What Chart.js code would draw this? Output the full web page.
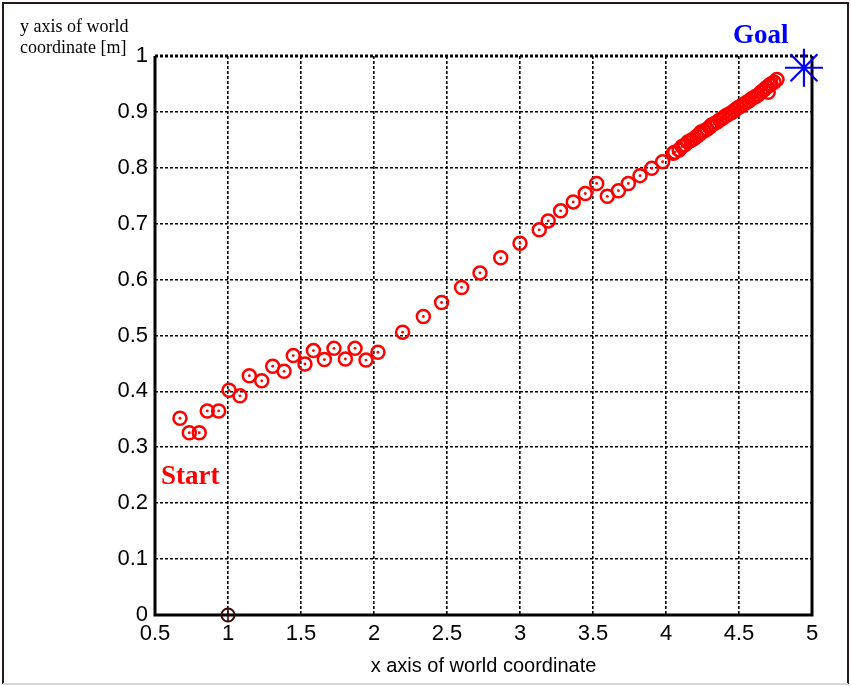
<!DOCTYPE html>
<html lang="en">
<head>
    <meta charset="UTF-8">
    <title>Robot path in world coordinates</title>
    <script src="https://cdn.jsdelivr.net/npm/chart.js"></script>
    <style>
        body { margin: 0; background: #fff; }
    </style>
</head>
<body>
    <canvas id="chart" width="851" height="686"></canvas>

    <script>
        // path points
        const pathX = [0.671, 0.735, 0.803, 0.858, 0.936, 1.007, 1.082, 1.146, 1.231, 1.306,
            1.384, 1.447, 1.527, 1.585, 1.660, 1.726, 1.804, 1.870, 1.945, 2.027,
            2.196, 2.338, 2.463, 2.600, 2.726, 2.868, 3.000, 3.132, 3.193, 3.278,
            3.365, 3.447, 3.525, 3.598, 3.674, 3.742, 3.822, 3.902, 3.977, 4.050,
            4.06, 4.09, 4.11, 4.13, 4.15, 4.17, 4.19, 4.21, 4.23, 4.24,
            4.26, 4.28, 4.30, 4.31, 4.33, 4.35, 4.37, 4.39, 4.41, 4.43,
            4.45, 4.47, 4.49, 4.51, 4.53, 4.55, 4.57, 4.59, 4.61, 4.63,
            4.65, 4.67, 4.69, 4.70, 4.71, 4.72, 4.74, 4.76];
        const pathY = [0.352, 0.326, 0.326, 0.365, 0.365, 0.402, 0.392, 0.428, 0.419, 0.445,
            0.436, 0.464, 0.449, 0.473, 0.457, 0.477, 0.458, 0.477, 0.456, 0.470,
            0.506, 0.534, 0.559, 0.586, 0.612, 0.639, 0.665, 0.689, 0.705, 0.723,
            0.739, 0.754, 0.772, 0.749, 0.759, 0.772, 0.786, 0.799, 0.811, 0.826,
            0.828, 0.832, 0.838, 0.841, 0.846, 0.849, 0.852, 0.856, 0.860, 0.864,
            0.866, 0.869, 0.873, 0.876, 0.879, 0.882, 0.886, 0.889, 0.893, 0.896,
            0.899, 0.903, 0.907, 0.910, 0.913, 0.917, 0.920, 0.924, 0.927, 0.930,
            0.935, 0.939, 0.944, 0.935, 0.948, 0.950, 0.953, 0.958];
        const startPt = { x: 1, y: 0 };
        const goalPt = { x: 4.945, y: 0.979 };

        const xTicks = [0.5, 1, 1.5, 2, 2.5, 3, 3.5, 4, 4.5, 5];
        const yTicks = [0, 0.1, 0.2, 0.3, 0.4, 0.5, 0.6, 0.7, 0.8, 0.9, 1];

        const pathPts = pathX.map((x, i) => ({ x: x, y: pathY[i] }));
        const tickFont = { family: "'Liberation Sans Narrow', 'Liberation Sans', Arial", size: 22 };

        // frame, outer border and the text labels
        const decor = {
            id: "decor",
            beforeDatasetsDraw(chart) {
                const ctx = chart.ctx;
                const a = chart.chartArea;
                ctx.save();
                ctx.strokeStyle = "#000";
                ctx.lineWidth = 3;
                ctx.beginPath();
                ctx.moveTo(a.left, a.top);
                ctx.lineTo(a.left, a.bottom);
                ctx.lineTo(a.right, a.bottom);
                ctx.lineTo(a.right, a.top);
                ctx.stroke();
                ctx.setLineDash([3, 2]);
                ctx.beginPath();
                ctx.moveTo(a.left, a.top);
                ctx.lineTo(a.right, a.top);
                ctx.stroke();
                ctx.restore();
            },
            afterDraw(chart) {
                const ctx = chart.ctx;
                ctx.save();
                ctx.lineWidth = 2;
                ctx.strokeStyle = "#2a1616";
                ctx.beginPath();
                ctx.moveTo(3, 684);
                ctx.lineTo(3, 3);
                ctx.lineTo(848, 3);
                ctx.lineTo(848, 684);
                ctx.stroke();
                ctx.strokeStyle = "#d8d8d8";
                ctx.beginPath();
                ctx.moveTo(3, 684);
                ctx.lineTo(848, 684);
                ctx.stroke();

                ctx.fillStyle = "#000";
                ctx.font = "18px 'Liberation Serif', 'Times New Roman', serif";
                ctx.textAlign = "left";
                ctx.textBaseline = "alphabetic";
                ctx.fillText("y axis of world", 20, 32);
                ctx.fillText("coordinate [m]", 20, 53);

                ctx.font = "bold 27px 'Liberation Serif', 'Times New Roman', serif";
                ctx.fillStyle = "#ff0000";
                ctx.fillText("Start", 161, 484);
                ctx.fillStyle = "#0000ff";
                ctx.fillText("Goal", 733, 43);
                ctx.restore();
            }
        };

        new Chart(document.getElementById("chart"), {
            type: "scatter",
            data: {
                datasets: [
                    { data: pathPts, pointStyle: "circle", pointRadius: 6.5, borderColor: "#ff0000",
                      backgroundColor: "rgba(0,0,0,0)", borderWidth: 2.5, clip: false },
                    { data: pathPts, pointStyle: "circle", pointRadius: 1.4, borderWidth: 0,
                      backgroundColor: "#ff0000", clip: false },
                    { data: [startPt], pointStyle: "circle", pointRadius: 6.5, borderColor: "#3a0808",
                      backgroundColor: "rgba(0,0,0,0)", borderWidth: 2, clip: false },
                    { data: [startPt], pointStyle: "line", rotation: 90, pointRadius: 6.5, borderColor: "#3a0808",
                      borderWidth: 1.5, clip: false },
                    { data: [goalPt], pointStyle: "star", pointRadius: 19, borderColor: "#0000ff",
                      borderWidth: 2.2, clip: false }
                ]
            },
            options: {
                responsive: false,
                animation: false,
                layout: { padding: { top: 56, right: 39, left: 0, bottom: 8 } },
                plugins: { legend: { display: false }, tooltip: { enabled: false } },
                scales: {
                    x: {
                        type: "linear", min: 0.5, max: 5,
                        afterBuildTicks: s => { s.ticks = xTicks.map(v => ({ value: v })); },
                        afterFit: s => { s.height = 63; },
                        ticks: { color: "#000", font: tickFont, padding: 6, callback: v => String(v) },
                        grid: { color: "#000", lineWidth: 1.6, drawTicks: false },
                        border: { display: false, dash: [3, 2] },
                        title: { display: true, text: "x axis of world coordinate", color: "#000",
                                 font: { family: tickFont.family, size: 20 }, padding: { top: 2, bottom: 0 } }
                    },
                    y: {
                        type: "linear", min: 0, max: 1,
                        afterBuildTicks: s => { s.ticks = yTicks.map(v => ({ value: v })); },
                        afterFit: s => { s.width = 155; },
                        ticks: { color: "#000", font: tickFont, padding: 7, callback: v => String(+v.toFixed(1)) },
                        grid: { color: "#000", lineWidth: 1.6, drawTicks: false },
                        border: { display: false, dash: [3, 2] }
                    }
                }
            },
            plugins: [decor]
        });
    </script>
</body>
</html>
